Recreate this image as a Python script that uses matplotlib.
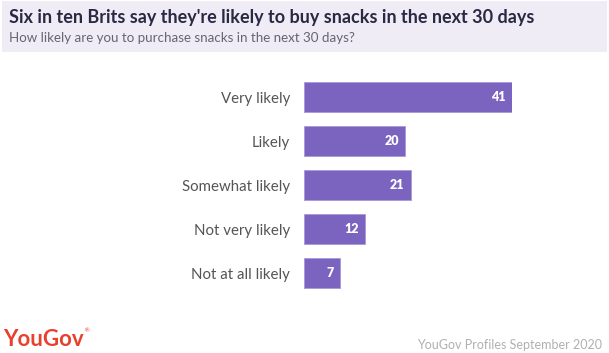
import matplotlib.pyplot as plt
from matplotlib.patches import Rectangle

categories = ['Very likely', 'Likely', 'Somewhat likely', 'Not very likely', 'Not at all likely']
values = [41, 20, 21, 12, 7]

title = "Six in ten Brits say they're likely to buy snacks in the next 30 days"
subtitle = 'How likely are you to purchase snacks in the next 30 days?'
source = 'YouGov Profiles September 2020'

plt.rcParams['font.family'] = ['Lato', 'DejaVu Sans']

fig = plt.figure(figsize=(6.09, 3.53), dpi=100)
fig.patch.set_facecolor('white')

# header band
fig.patches.append(Rectangle((2 / 609, 1 - 52 / 353), 605 / 609, 51 / 353,
                             transform=fig.transFigure, facecolor='#efecf6',
                             edgecolor='none', zorder=0))
fig.text(9 / 609, 1 - 17 / 353, title, fontsize=13, fontweight='bold',
         color='#2a2944', va='center', ha='left')
fig.text(9 / 609, 1 - 38 / 353, subtitle, fontsize=9.6,
         color='#66646f', va='center', ha='left')

ax = fig.add_axes([304 / 609, 1 - 295 / 353, 208 / 609, 220 / 353])
y = list(range(len(categories)))
ax.barh(y, values, height=0.66, color='#7b63c0', edgecolor='#a996d8', linewidth=0.6)
ax.set_xlim(0, 41)
ax.set_ylim(len(categories) - 0.5, -0.5)
ax.set_yticks(y)
ax.set_yticklabels(categories, fontsize=10.8, color='#555555')
ax.tick_params(axis='y', length=0, pad=10)
ax.set_xticks([])
for s in ax.spines.values():
    s.set_visible(False)

for i, v in enumerate(values):
    ax.text(v - 1.2, i, str(v), color='white', fontweight='heavy',
            fontsize=9, ha='right', va='center')

# footer
fig.text(3 / 609, 1 - 339 / 353, 'YouGov', fontsize=16, fontweight='bold',
         color='#e9402d', va='center', ha='left')
fig.text(85 / 609, 1 - 331 / 353, '®', fontsize=4, color='#e9402d',
         va='center', ha='left')
fig.text(602 / 609, 1 - 345 / 353, source, fontsize=9, color='#b0b0b0',
         va='center', ha='right')

fig.savefig('out.png', dpi=100)
